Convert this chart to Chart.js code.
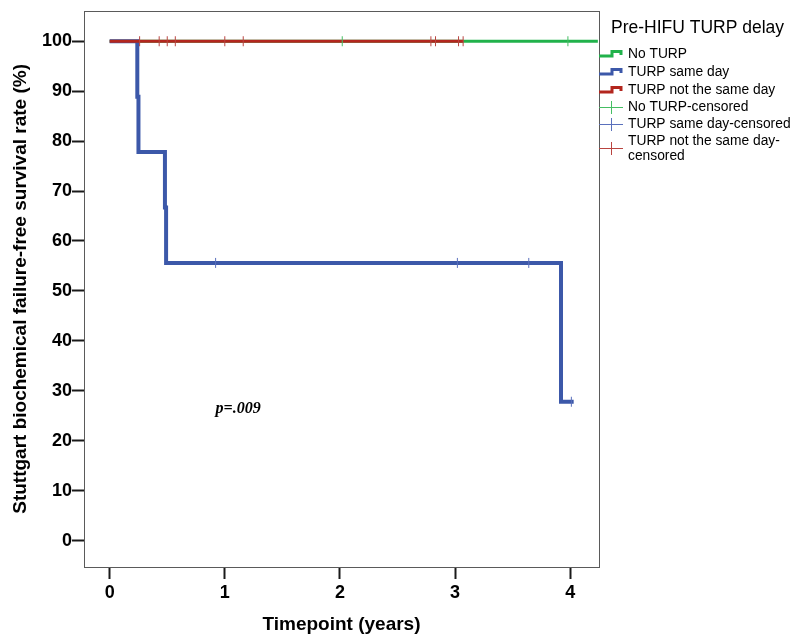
<!DOCTYPE html>
<html>
<head>
<meta charset="utf-8">
<script src="https://cdn.jsdelivr.net/npm/chart.js"></script>
<style>
  html, body { margin: 0; padding: 0; background: #fff; }
</style>
</head>
<body>
<canvas id="kmChart" width="794" height="639"></canvas>
<script>
// Kaplan-Meier curves (time in years, survival in %)
var noTurpTimes = [0, 4.24];
var noTurpSurv = [100, 100];
var noTurpCensTimes = [2.02, 3.98];
var noTurpCensSurv = [100, 100];

var sameDayTimes = [0, 0.24, 0.25, 0.48, 0.49, 3.92, 4.03];
var sameDaySurv = [100, 88.9, 77.8, 66.7, 55.6, 27.8, 27.8];
var sameDayCensTimes = [0.92, 3.02, 3.64, 4.01];
var sameDayCensSurv = [55.6, 55.6, 55.6, 27.8];

var notSameTimes = [0, 3.07];
var notSameSurv = [100, 100];
var notSameCensTimes = [0.26, 0.43, 0.5, 0.57, 1.0, 1.16, 2.79, 2.83, 3.03, 3.07];
var notSameCensSurv = [100, 100, 100, 100, 100, 100, 100, 100, 100, 100];

var xTicks = [0, 1, 2, 3, 4];
var yTicks = [0, 10, 20, 30, 40, 50, 60, 70, 80, 90, 100];

var legendTitle = "Pre-HIFU TURP delay";
var legendLabels = ["No TURP", "TURP same day", "TURP not the same day",
  "No TURP-censored", "TURP same day-censored", ["TURP not the same day-", "censored"]];
var pValueText = "p=.009";
var pValuePos = [0.92, 26.3];

var green = "#21b24b", blue = "#3c58a9", red = "#b3261e";
var greenLight = "#45be63", blueLight = "#5a70bc", redLight = "#b94440";

function pts(xs, ys) {
  return xs.map(function (x, i) { return { x: x, y: ys[i] }; });
}

function curve(xs, ys, color, width, order) {
  return { data: pts(xs, ys), borderColor: color, borderWidth: width, stepped: true,
    pointRadius: 0, fill: false, order: order };
}

function censored(xs, ys, color) {
  return { data: pts(xs, ys), showLine: false, pointStyle: "line", pointRotation: 90,
    pointRadius: 5, pointBorderWidth: 1, pointBorderColor: color, pointBackgroundColor: color, order: 0 };
}

// frame round the plot area
var framePlugin = {
  id: "frame",
  beforeDatasetsDraw: function (chart) {
    var a = chart.chartArea, c = chart.ctx;
    c.save();
    c.strokeStyle = "#5a5a5a";
    c.lineWidth = 1;
    c.strokeRect(Math.round(a.left) + 0.5, Math.round(a.top) + 0.5,
      Math.round(a.right - a.left), Math.round(a.bottom - a.top));
    c.restore();
  }
};

var pValuePlugin = {
  id: "pvalue",
  afterDatasetsDraw: function (chart) {
    var c = chart.ctx;
    c.save();
    c.font = "italic bold 16px 'Liberation Serif', 'Times New Roman', serif";
    c.fillStyle = "#000";
    c.textBaseline = "middle";
    c.fillText(pValueText, chart.scales.x.getPixelForValue(pValuePos[0]),
      chart.scales.y.getPixelForValue(pValuePos[1]));
    c.restore();
  }
};

// SPSS-like legend on the right
var legendPlugin = {
  id: "kmLegend",
  afterDraw: function (chart) {
    var c = chart.ctx, x0 = chart.chartArea.right;
    c.save();
    c.fillStyle = "#000";
    c.textBaseline = "middle";
    c.font = "17.5px 'Liberation Sans', Arial, sans-serif";
    c.fillText(legendTitle, x0 + 12, 28);
    c.font = "13.8px 'Liberation Sans', Arial, sans-serif";
    var rows = [54, 72, 90, 107, 124, 141];
    var lineCols = [green, blue, red];
    var crossCols = [greenLight, blueLight, redLight];
    for (var i = 0; i < legendLabels.length; i++) {
      var y = rows[i];
      if (i < 3) {
        c.strokeStyle = lineCols[i];
        c.lineWidth = 3;
        c.beginPath();
        c.moveTo(x0, y + 2);
        c.lineTo(x0 + 13, y + 2);
        c.lineTo(x0 + 13, y - 2.5);
        c.lineTo(x0 + 22, y - 2.5);
        c.lineTo(x0 + 22, y + 1);
        c.stroke();
      } else {
        var cy = Array.isArray(legendLabels[i]) ? y + 7 : y;
        c.strokeStyle = crossCols[i - 3];
        c.lineWidth = 1;
        c.beginPath();
        c.moveTo(x0, cy + 0.5);
        c.lineTo(x0 + 24, cy + 0.5);
        c.moveTo(x0 + 12.5, cy - 6);
        c.lineTo(x0 + 12.5, cy + 7);
        c.stroke();
      }
      var lab = legendLabels[i];
      if (Array.isArray(lab)) {
        c.fillText(lab[0], x0 + 29, y);
        c.fillText(lab[1], x0 + 29, y + 15);
      } else {
        c.fillText(lab, x0 + 29, y);
      }
    }
    c.restore();
  }
};

var tickFont = { family: "'Liberation Sans', Arial, sans-serif", size: 18, weight: "bold" };
var titleFont = { family: "'Liberation Sans', Arial, sans-serif", size: 19, weight: "bold" };

var ctx = document.getElementById("kmChart").getContext("2d");
var kmChart = new Chart(ctx, {
  type: "line",
  data: {
    datasets: [
      curve(noTurpTimes, noTurpSurv, green, 3, 3),
      curve(sameDayTimes, sameDaySurv, blue, 4, 2),
      curve(notSameTimes, notSameSurv, red, 3, 1),
      censored(noTurpCensTimes, noTurpCensSurv, greenLight),
      censored(sameDayCensTimes, sameDayCensSurv, blueLight),
      censored(notSameCensTimes, notSameCensSurv, redLight)
    ]
  },
  options: {
    responsive: false,
    animation: false,
    events: [],
    layout: { padding: { left: 0, top: 9, right: 195, bottom: 0 } },
    plugins: { legend: { display: false }, tooltip: { enabled: false } },
    scales: {
      x: {
        type: "linear",
        min: -0.223,
        max: 4.25,
        afterFit: function (s) { s.height = 72; },
        afterBuildTicks: function (s) { s.ticks = xTicks.map(function (v) { return { value: v }; }); },
        grid: { drawOnChartArea: false, drawTicks: true, tickLength: 12, tickWidth: 2, tickColor: "#1a1a1a" },
        border: { display: false },
        ticks: { font: tickFont, color: "#000", padding: 3, autoSkip: false, maxRotation: 0 },
        title: { display: true, text: "Timepoint (years)", font: titleFont, color: "#000", padding: { top: 0, bottom: 3 } }
      },
      y: {
        type: "linear",
        min: -5.3,
        max: 106.1,
        afterFit: function (s) { s.width = 84; },
        afterBuildTicks: function (s) { s.ticks = yTicks.map(function (v) { return { value: v }; }); },
        grid: { drawOnChartArea: false, drawTicks: true, tickLength: 12, tickWidth: 2, tickColor: "#1a1a1a" },
        border: { display: false },
        ticks: { font: tickFont, color: "#000", padding: 0, autoSkip: false },
        title: { display: true, text: "Stuttgart biochemical failure-free survival rate (%)", font: titleFont, color: "#000", padding: { top: 9, bottom: 0 } }
      }
    }
  },
  plugins: [framePlugin, pValuePlugin, legendPlugin]
});
</script>
</body>
</html>
